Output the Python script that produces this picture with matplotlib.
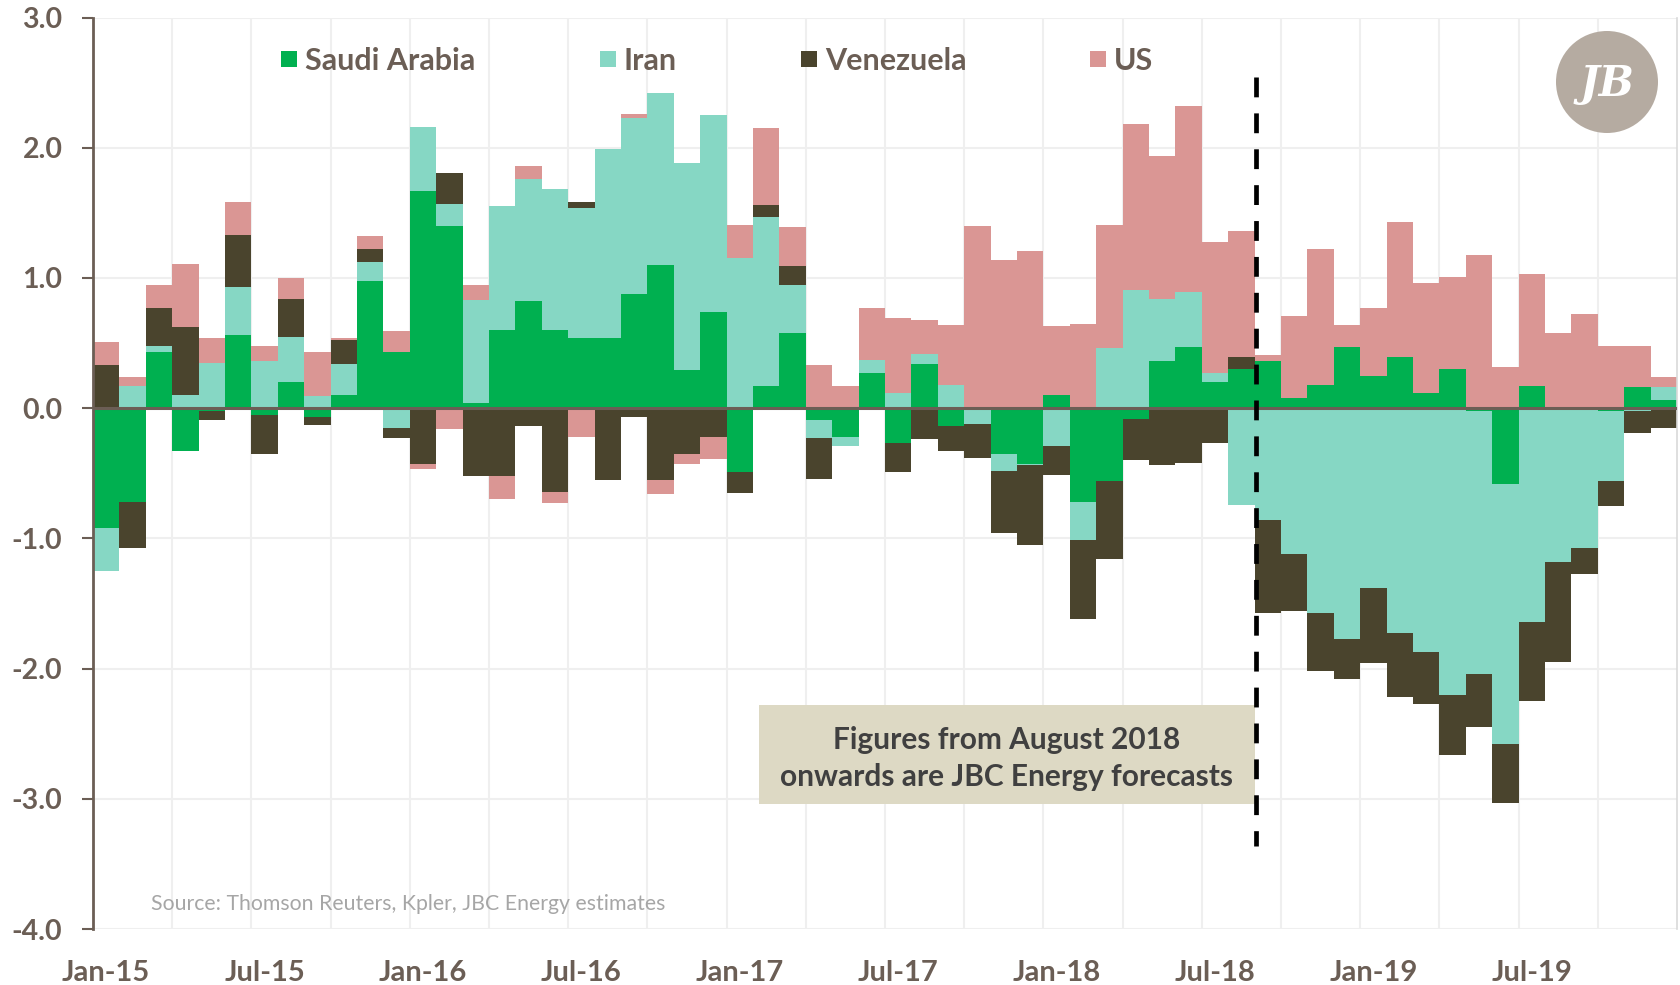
import numpy as np
import matplotlib
matplotlib.use("Agg")
import matplotlib.pyplot as plt
from matplotlib.patches import Rectangle, Ellipse

plt.rcParams['font.family'] = ['Lato', 'DejaVu Sans']
plt.rcParams['axes.unicode_minus'] = False

# 데이터: 월별 원유 공급 변화 (mb/d), Jan-15 ~ Dec-19
months = [f"{m}-{y}" for y in range(15, 20) for m in
          ["Jan", "Feb", "Mar", "Apr", "May", "Jun", "Jul", "Aug", "Sep", "Oct", "Nov", "Dec"]]

saudi = [-0.92, -0.72, 0.43, -0.33, -0.02, 0.56, -0.05, 0.20, -0.07, 0.10,
         0.98, 0.43, 1.67, 1.40, 0.04, 0.60, 0.82, 0.60, 0.54, 0.54,
         0.88, 1.10, 0.29, 0.74, -0.49, 0.17, 0.58, -0.09, -0.22, 0.27,
         -0.27, 0.34, -0.14, 0.00, -0.35, -0.43, 0.10, -0.72, -0.56, -0.08,
         0.36, 0.47, 0.20, 0.30, 0.36, 0.08, 0.18, 0.47, 0.25, 0.39,
         0.12, 0.30, -0.02, -0.58, 0.17, 0.00, 0.00, -0.02, 0.16, 0.06]
iran = [-0.33, 0.17, 0.05, 0.10, 0.35, 0.37, 0.36, 0.35, 0.09, 0.24,
        0.14, -0.15, 0.49, 0.17, 0.79, 0.95, 0.94, 1.08, 1.00, 1.45,
        1.35, 1.32, 1.59, 1.51, 1.15, 1.30, 0.37, -0.14, -0.07, 0.10,
        0.12, 0.08, 0.18, -0.12, -0.13, -0.01, -0.29, -0.29, 0.46, 0.91,
        0.48, 0.42, 0.07, -0.74, -0.86, -1.12, -1.57, -1.77, -1.38, -1.73,
        -1.87, -2.20, -2.02, -2.00, -1.64, -1.18, -1.07, -0.54, -0.02, 0.10]
venezuela = [0.33, -0.35, 0.29, 0.52, -0.07, 0.40, -0.30, 0.29, -0.06, 0.18,
             0.10, -0.08, -0.43, 0.24, -0.52, -0.52, -0.14, -0.64, 0.04, -0.55,
             -0.07, -0.55, -0.35, -0.22, -0.16, 0.09, 0.14, -0.31, 0.00, 0.00,
             -0.22, -0.24, -0.19, -0.26, -0.48, -0.61, -0.22, -0.61, -0.60, -0.32,
             -0.44, -0.42, -0.27, 0.09, -0.71, -0.44, -0.45, -0.31, -0.58, -0.49,
             -0.40, -0.46, -0.41, -0.45, -0.61, -0.77, -0.20, -0.19, -0.17, -0.15]
us = [0.18, 0.07, 0.18, 0.49, 0.19, 0.25, 0.12, 0.16, 0.34, 0.02,
      0.10, 0.16, -0.04, -0.16, 0.12, -0.18, 0.10, -0.09, -0.22, 0.00,
      0.03, -0.11, -0.08, -0.17, 0.26, 0.59, 0.30, 0.33, 0.17, 0.40,
      0.57, 0.26, 0.46, 1.40, 1.14, 1.21, 0.53, 0.65, 0.95, 1.27,
      1.10, 1.43, 1.01, 0.97, 0.05, 0.63, 1.04, 0.17, 0.52, 1.04,
      0.84, 0.71, 1.18, 0.32, 0.86, 0.58, 0.72, 0.48, 0.32, 0.08]

series_names = ["Saudi Arabia", "Iran", "Venezuela", "US"]
series_colors = ["#00B050", "#86D7C4", "#4A442D", "#DA9694"]
xtick_labels = ["Jan-15", "Jul-15", "Jan-16", "Jul-16", "Jan-17",
                "Jul-17", "Jan-18", "Jul-18", "Jan-19", "Jul-19"]
ytick_labels = ["-4.0", "-3.0", "-2.0", "-1.0", "0.0", "1.0", "2.0", "3.0"]
source_text = "Source: Thomson Reuters, Kpler, JBC Energy estimates"
note_text = "Figures from August 2018\nonwards are JBC Energy forecasts"

W, H = 1680, 985
TXT = "#6B5E55"

fig = plt.figure(figsize=(W / 100, H / 100), dpi=100)
ax = fig.add_axes([93 / W, 1 - 929 / H, (1677 - 93) / W, (929 - 17.6) / H])

x = np.arange(len(months))
pos_base = np.zeros(len(x))
neg_base = np.zeros(len(x))
for vals, color in zip([saudi, iran, venezuela, us], series_colors):
    v = np.array(vals)
    bottom = np.where(v >= 0, pos_base, neg_base)
    ax.bar(x, v, bottom=bottom, width=1.0, color=color, edgecolor="none", zorder=2)
    pos_base += np.where(v >= 0, v, 0)
    neg_base += np.where(v < 0, v, 0)

ax.set_xlim(-0.5, len(x) - 0.5)
ax.set_ylim(-4, 3)

# 격자선
for gy in range(-4, 4):
    ax.axhline(gy, color="#EFEFEF", lw=1.5, zorder=0)
for gx in np.arange(2.5, len(x) - 0.5, 3):
    ax.axvline(gx, color="#EFEFEF", lw=1.5, zorder=0)
ax.axhline(0, color=TXT, lw=2.2, zorder=3)

ax.set_yticks(range(-4, 4))
ax.set_yticklabels(ytick_labels)
ax.set_xticks(range(0, len(x), 6))
ax.set_xticklabels(xtick_labels)
ax.tick_params(axis="y", length=8, width=1.5, color=TXT, pad=14, labelsize=20.5, labelcolor=TXT)
ax.tick_params(axis="x", length=0, pad=22, labelsize=21, labelcolor=TXT)
for lab in ax.get_xticklabels() + ax.get_yticklabels():
    lab.set_fontweight("bold")

for s in ["top", "bottom"]:
    ax.spines[s].set_visible(False)
ax.spines["left"].set_color(TXT)
ax.spines["left"].set_linewidth(2)
ax.spines["right"].set_color("#D9D9D9")
ax.spines["right"].set_linewidth(1.2)

# 예측 구간 구분선과 설명 박스
ax.plot([43.55, 43.55], [2.54, -3.36], color="black", lw=3.4, dashes=(4.2, 3.4), zorder=5)
ax.add_patch(Rectangle((24.73, -3.043), 43.5 - 24.73, 0.76, facecolor="#DDD9C4",
                       edgecolor="none", zorder=4))
ax.text((24.73 + 43.5) / 2, -2.69, note_text, ha="center", va="center", fontsize=21.5,
        fontweight="bold", color="#404040", linespacing=1.42, zorder=6)

ax.text(1.7, -3.805, source_text, ha="left", va="center", fontsize=15.3, color="#A6A6A6")

# 범례 (수동 배치)
leg_marker_x = [281, 600, 801, 1090]
for name, color, mx in zip(series_names, series_colors, leg_marker_x):
    fig.patches.append(Rectangle((mx / W, 1 - 67 / H), 16 / W, 16 / H, facecolor=color,
                                 edgecolor="none", transform=fig.transFigure, figure=fig))
    fig.text((mx + 24) / W, 1 - 61 / H, name, ha="left", va="center", fontsize=22,
             fontweight="bold", color=TXT)

# 로고
fig.patches.append(Ellipse((1607 / W, 1 - 82 / H), 102 / W, 102 / H, facecolor="#B5ABA1",
                           edgecolor="none", transform=fig.transFigure, figure=fig))
fig.text(1607 / W, 1 - 84 / H, "JB", ha="center", va="center", fontsize=30,
         fontweight="bold", color="white", family="DejaVu Serif", style="italic")

fig.savefig("out.png", dpi=100)
